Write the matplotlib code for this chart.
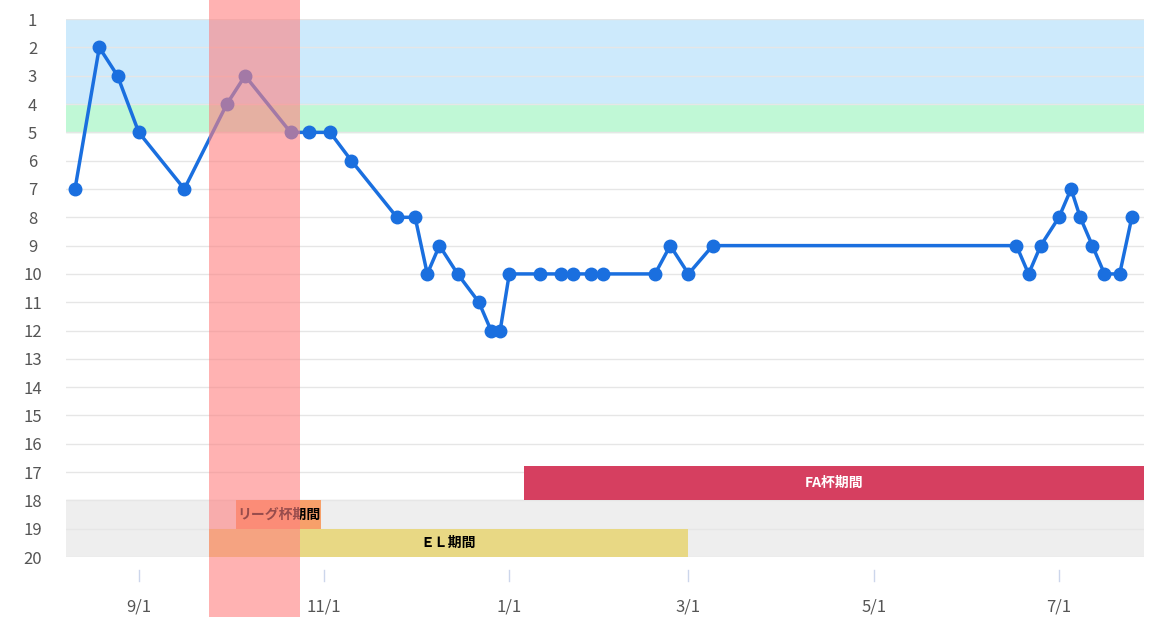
import matplotlib
matplotlib.use("Agg")
import matplotlib.pyplot as plt
import matplotlib.dates as mdates
import matplotlib.transforms as mtrans
from datetime import date

plt.rcParams['font.family'] = ['Noto Sans CJK JP', 'DejaVu Sans']

dates = ["2016-08-11","2016-08-19","2016-08-25","2016-09-01","2016-09-16","2016-09-30","2016-10-06",
         "2016-10-21","2016-10-27","2016-11-03","2016-11-10","2016-11-25","2016-12-01","2016-12-05",
         "2016-12-09","2016-12-15","2016-12-22","2016-12-26","2016-12-29","2017-01-01","2017-01-11",
         "2017-01-18","2017-01-22","2017-01-28","2017-02-01","2017-02-18","2017-02-23","2017-03-01",
         "2017-03-09","2017-06-17","2017-06-21","2017-06-25","2017-07-01","2017-07-05","2017-07-08",
         "2017-07-12","2017-07-16","2017-07-21","2017-07-25"]
ranks = [7,2,3,5,7,4,3,5,5,5,6,8,8,10,9,10,11,12,12,10,10,10,10,10,10,10,9,10,9,9,10,9,8,7,8,9,10,10,8]
tick_dates = ["2016-09-01","2016-11-01","2017-01-01","2017-03-01","2017-05-01","2017-07-01"]
tick_labels = ["9/1","11/1","1/1","3/1","5/1","7/1"]
red_period = ("2016-09-24","2016-10-24")
bars = [("FA杯期間", "2017-01-06", "2017-07-29", 16.8, 18, "#d63f60", "white"),
        ("リーグ杯期間", "2016-10-03", "2016-10-31", 18, 19, "#f7a06a", "black"),
        ("ＥＬ期間", "2016-09-24", "2017-03-01", 19, 20, "#e8d884", "black")]

d = lambda s: mdates.date2num(date.fromisoformat(s))

fig = plt.figure(figsize=(11.56, 6.17), dpi=100)
ax = fig.add_axes([0.057, 0.0972, 0.9326, 0.8718])
ax.set_xlim(d("2016-08-08"), d("2017-07-29"))
ax.set_ylim(20, 1)
ax.set_yticks(range(1, 21))
ax.tick_params(axis='y', length=0, labelsize=12, labelcolor="#555555", pad=24)
for lbl in ax.get_yticklabels():
    lbl.set_horizontalalignment('center')
ax.set_xticks([d(t) for t in tick_dates])
ax.set_xticklabels(tick_labels)
ax.tick_params(axis='x', length=0, labelsize=12, labelcolor="#555555", pad=30)
for sp in ax.spines.values():
    sp.set_visible(False)
ax.grid(axis='y', color="#e6e6e6", lw=1)
ax.set_axisbelow(True)

ax.axhspan(1, 4, color="#cdeafc", zorder=0)
ax.axhspan(4, 5, color="#c0f8d6", zorder=0)
ax.axhspan(18, 20, color="#eeeeee", zorder=0)

tr = mtrans.blended_transform_factory(ax.transData, ax.transAxes)
for t in tick_dates:
    ax.plot([d(t), d(t)], [-0.025, -0.045], color="#ccd6eb", lw=1, transform=tr, clip_on=False)

for name, s, e, y0, y1, c, tc in bars:
    ax.fill_between([d(s), d(e)], y0, y1, color=c, zorder=1, lw=0)
    ax.text((d(s)+d(e))/2, (y0+y1)/2, name, ha='center', va='center', fontsize=10,
            color=tc, fontweight='bold', zorder=2)

ax.add_patch(plt.Rectangle((d(red_period[0]), -0.12), d(red_period[1])-d(red_period[0]), 1.2,
                           transform=tr, color="#ff8080", alpha=0.6, zorder=4, clip_on=False, lw=0))

ax.plot([d(x) for x in dates], ranks, color="#1a6fdf", lw=2.5, marker='o', ms=9, zorder=3)

fig.savefig("out.png", dpi=100)
